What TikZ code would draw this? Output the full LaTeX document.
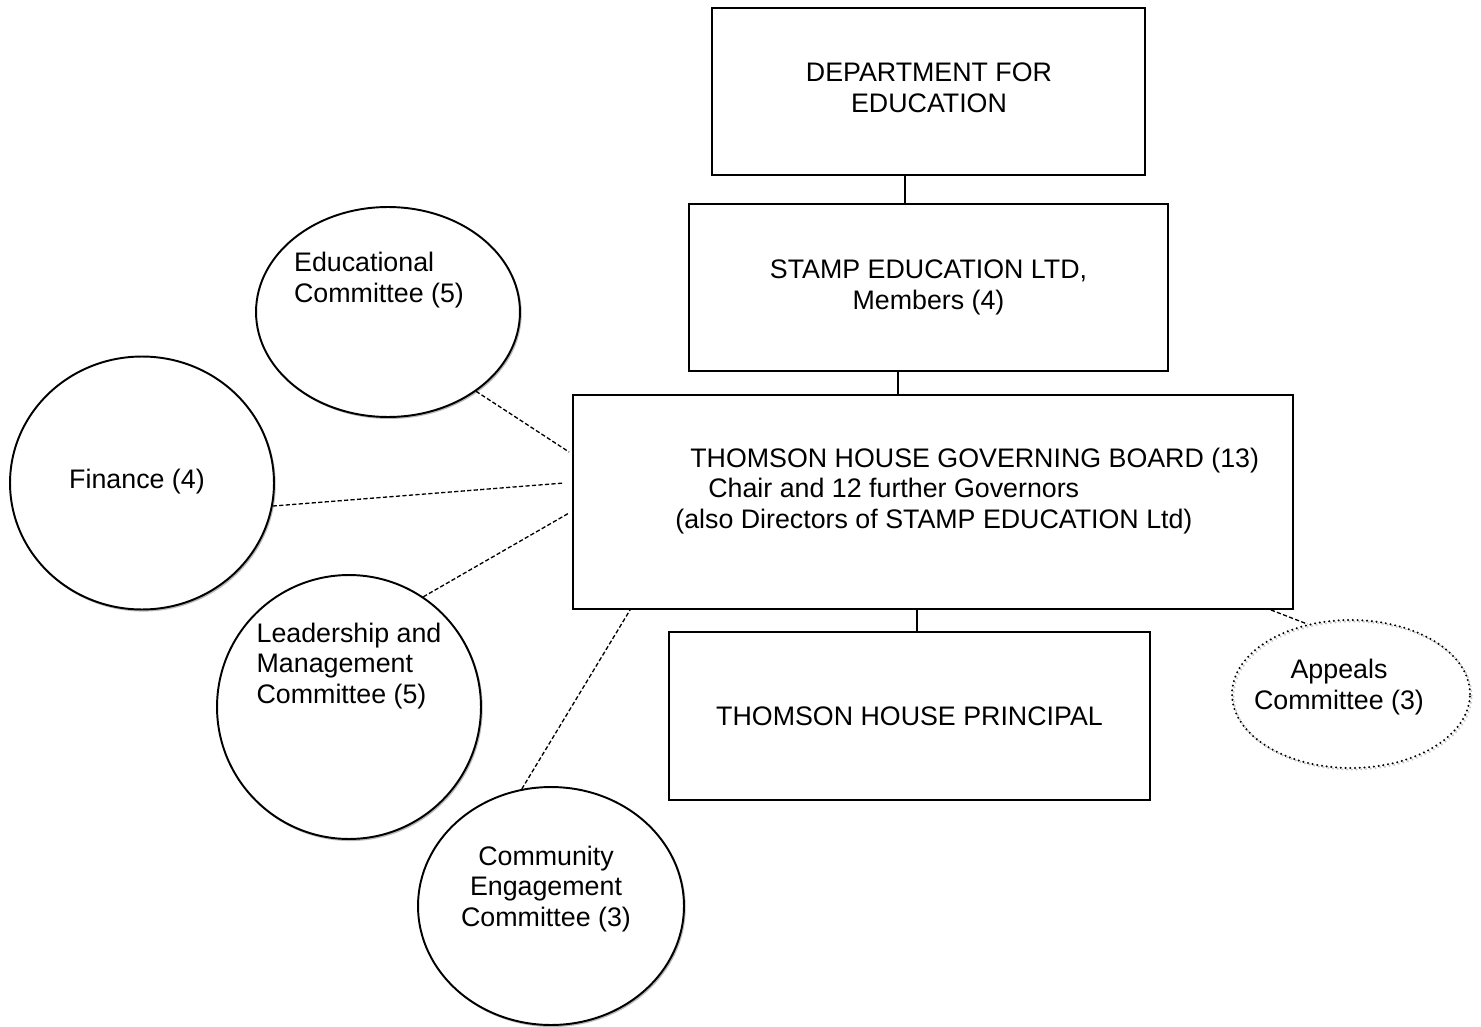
\documentclass[tikz,border=0pt]{standalone}
\usepackage{fontspec}
\setmainfont{Liberation Sans}
\usetikzlibrary{shapes.geometric,shadows}

\tikzset{
  box/.style={draw, line width=1.1pt, fill=white, inner sep=0pt, align=center},
  comm/.style={draw, ellipse, line width=1.1pt, fill=white, inner sep=0pt,
    drop shadow={shadow xshift=0.7pt, shadow yshift=-0.9pt, shadow scale=1.004, fill=black!28, opacity=1}},
  appeal/.style={draw, ellipse, line width=1.3pt, inner sep=0pt, line cap=round,
    dash pattern=on 0pt off 2.7pt,
    preaction={draw=black!22, transform canvas={shift={(0.9pt,-0.9pt)}}}},
  txt/.style={inner sep=0pt},
  link/.style={line width=0.9pt},
  dlink/.style={line width=0.75pt, dash pattern=on 2.4pt off 1.3pt},
}

\begin{document}
\begin{tikzpicture}[x=0.02cm, y=-0.02cm, every node/.style={font=\fontsize{15.25}{17.5}\selectfont}]
    \useasboundingbox (0,0) rectangle (1481,1027);

    \node[box, minimum width=8.66cm, minimum height=3.34cm] (dfe) at (928.5,91.5) {};
    \node[txt, align=center] (dfetxt) at (929,88) {DEPARTMENT FOR\\EDUCATION};
    \node[box, minimum width=9.58cm, minimum height=3.34cm] (stamp) at (928.5,287.5) {STAMP EDUCATION LTD,\\Members (4)};
    \node[box, minimum width=14.4cm, minimum height=4.28cm] (board) at (933,502) {};
    \node[txt, align=left, anchor=west] (boardtxt) at (675,491) {\hspace*{0.3cm}THOMSON HOUSE GOVERNING BOARD (13)\\\hspace*{0.66cm}Chair and 12 further Governors\\(also Directors of STAMP EDUCATION Ltd)};
    \node[box, minimum width=9.62cm, minimum height=3.36cm] (principal) at (909.5,716) {THOMSON HOUSE PRINCIPAL};

    \node[comm, minimum width=5.28cm, minimum height=4.2cm] (edu) at (388,312) {};
    \node[txt, align=left] (edutxt) at (379,280) {Educational\\Committee (5)};

    \node[comm, minimum width=5.28cm, minimum height=5.06cm] (fin) at (142,483) {};
    \node[txt] (fintxt) at (137,482) {Finance (4)};

    \node[comm, minimum width=5.28cm, minimum height=5.28cm] (lead) at (349,707) {};
    \node[txt, align=left] (leadtxt) at (349,666) {Leadership and\\Management\\Committee (5)};

    \node[comm, minimum width=5.32cm, minimum height=4.76cm] (cmty) at (551,906) {};
    \node[txt, align=center] (cmtytxt) at (546,889) {Community\\Engagement\\Committee (3)};

    \node[appeal, minimum width=4.76cm, minimum height=2.96cm] (app) at (1351,694) {};
    \node[txt, align=center] (apptxt) at (1339,687) {Appeals\\Committee (3)};

    \draw[link] ([xshift=-0.47cm]dfe.south) -- ([xshift=-0.47cm]dfe.south |- stamp.north);
    \draw[link] ([xshift=-0.61cm]stamp.south) -- ([xshift=-0.61cm]stamp.south |- board.north);
    \draw[link] ([xshift=-0.32cm]board.south) -- ([xshift=-0.32cm]board.south |- principal.north);

    \draw[dlink] (edu.-42) -- ([xshift=-0.06cm, yshift=1cm]board.west);
    \draw[dlink] (fin.-10) -- ([xshift=-0.16cm, yshift=0.38cm]board.west);
    \draw[dlink] (lead.56) -- ([xshift=-0.06cm, yshift=-0.22cm]board.west);
    \draw[dlink] (cmty.104) -- ([xshift=-6.06cm]board.south);
    \draw[dlink] ([xshift=-0.46cm]board.south east) -- (app.122);
\end{tikzpicture}
\end{document}
